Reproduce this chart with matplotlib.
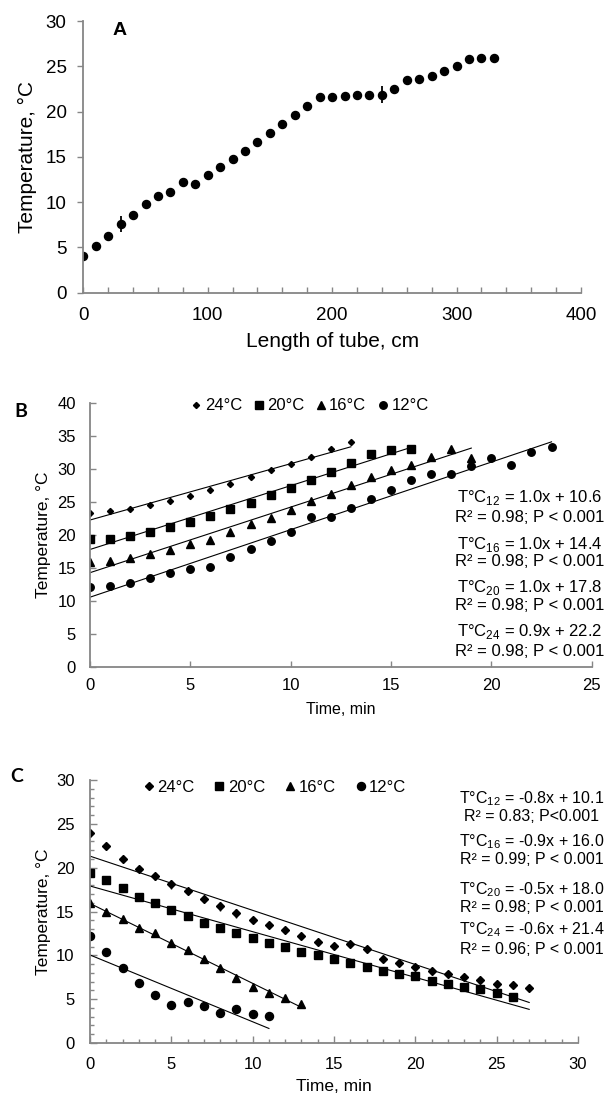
import numpy as np
import matplotlib
matplotlib.use("Agg")
import matplotlib.pyplot as plt
from matplotlib.ticker import MultipleLocator

plt.rcParams['font.family'] = ['Liberation Sans', 'DejaVu Sans']
plt.rcParams['mathtext.fontset'] = 'custom'
plt.rcParams['mathtext.rm'] = 'Liberation Sans'

# ---------------- Data ----------------
# Panel A
lengthA = [0, 10, 20, 30, 40, 50, 60, 70, 80, 90, 100, 110, 120, 130, 140, 150, 160,
           170, 180, 190, 200, 210, 220, 230, 240, 250, 260, 270, 280, 290, 300, 310, 320, 330]
tempA = [4.1, 5.15, 6.3, 7.6, 8.55, 9.8, 10.65, 11.1, 12.2, 12.0, 13.0, 13.85, 14.8, 15.6,
         16.6, 17.6, 18.6, 19.6, 20.6, 21.6, 21.6, 21.7, 21.8, 21.8, 21.85, 22.5, 23.5,
         23.65, 23.9, 24.5, 25.0, 25.8, 25.9, 25.9]
errA = [0.2, 0.1, 0.2, 0.9, 0.3, 0.2, 0.3, 0.2, 0.3, 0.2, 0.3, 0.2, 0.3, 0.2,
        0.3, 0.2, 0.3, 0.3, 0.4, 0.3, 0.3, 0.2, 0.2, 0.2, 0.95, 0.3, 0.3,
        0.3, 0.3, 0.3, 0.2, 0.3, 0.2, 0.3]

labels = ['24°C', '20°C', '16°C', '12°C']

# Panel B (heating)
tB24 = list(range(0, 14))
B24 = [23.4, 23.7, 24.0, 24.5, 25.2, 25.9, 26.8, 27.8, 28.8, 29.8, 30.8, 31.9, 33.0, 34.1]
tB20 = list(range(0, 17))
B20 = [19.4, 19.4, 19.85, 20.45, 21.2, 21.9, 22.9, 23.9, 24.9, 26.1, 27.1, 28.35, 29.6,
       31.0, 32.35, 32.9, 33.1]
tB16 = list(range(0, 20))
B16 = [15.85, 16.1, 16.45, 17.1, 17.7, 18.6, 19.3, 20.5, 21.6, 22.6, 23.8, 25.1, 26.3,
       27.6, 28.8, 29.9, 30.7, 31.9, 33.1, 31.75]
tB12 = list(range(0, 24))
B12 = [12.15, 12.25, 12.75, 13.5, 14.2, 14.8, 15.2, 16.7, 17.9, 19.1, 20.5, 22.7, 22.8,
       24.1, 25.5, 26.8, 28.3, 29.2, 29.2, 30.5, 31.75, 30.6, 32.65, 33.3]
eqB = ["T°C$_{\\mathregular{12}}$ = 1.0x + 10.6", "R² = 0.98; P < 0.001",
       "T°C$_{\\mathregular{16}}$ = 1.0x + 14.4", "R² = 0.98; P < 0.001",
       "T°C$_{\\mathregular{20}}$ = 1.0x + 17.8", "R² = 0.98; P < 0.001",
       "T°C$_{\\mathregular{24}}$ = 0.9x + 22.2", "R² = 0.98; P < 0.001"]

# Panel C (cooling)
tC24 = list(range(0, 28))
C24 = [23.9, 22.5, 21.0, 19.9, 19.0, 18.1, 17.3, 16.4, 15.6, 14.8, 14.05, 13.45, 12.85,
       12.2, 11.5, 11.05, 11.25, 10.7, 9.55, 9.1, 8.66, 8.2, 7.86, 7.5, 7.14, 6.68, 6.6, 6.3]
errC24 = [0, 0, 0, 0, 0.35, 0.5, 0.3, 0.3, 0.5, 0.5, 0, 0, 0, 0, 0, 0, 0, 0, 0, 0,
          0, 0, 0, 0, 0, 0, 0, 0]
tC20 = list(range(0, 27))
C20 = [19.4, 18.6, 17.7, 16.7, 15.95, 15.2, 14.5, 13.7, 13.15, 12.6, 12.0, 11.45, 10.9,
       10.35, 10.0, 9.6, 9.1, 8.7, 8.26, 7.9, 7.6, 7.06, 6.72, 6.38, 6.15, 5.66, 5.28]
tC16 = list(range(0, 14))
C16 = [15.95, 15.0, 14.1, 13.07, 12.5, 11.44, 10.57, 9.55, 8.52, 7.42, 6.44, 5.76, 5.15, 4.43]
tC12 = list(range(0, 12))
C12 = [12.2, 10.4, 8.5, 6.8, 5.53, 4.36, 4.66, 4.17, 3.4, 3.83, 3.33, 3.03]
trend_end_C = [27, 27, 13, 11]
eqC = ["T°C$_{\\mathregular{12}}$ = -0.8x + 10.1", "R² = 0.83; P<0.001",
       "T°C$_{\\mathregular{16}}$ = -0.9x + 16.0", "R² = 0.99; P < 0.001",
       "T°C$_{\\mathregular{20}}$ = -0.5x + 18.0", "R² = 0.98; P < 0.001",
       "T°C$_{\\mathregular{24}}$ = -0.6x + 21.4", "R² = 0.96; P < 0.001"]

# ---------------- Figure ----------------
W, H = 608, 1095
fig = plt.figure(figsize=(W / 100, H / 100), dpi=100)
GRAY = '#868686'


def px_axes(l, r, t, b):
    return fig.add_axes([l / W, 1 - b / H, (r - l) / W, (b - t) / H])


def style(ax, fs):
    for s in ['top', 'right']:
        ax.spines[s].set_visible(False)
    for s in ['left', 'bottom']:
        ax.spines[s].set_color(GRAY)
        ax.spines[s].set_linewidth(1.3)
    ax.tick_params(colors=GRAY, labelcolor='black', labelsize=fs, width=1.0)


# ---- Panel A ----
axA = px_axes(83.3, 581, 21, 292.7)
style(axA, 13.5)
axA.errorbar(lengthA, tempA, yerr=errA, fmt='o', color='black', ms=5.8,
             elinewidth=1.3, capsize=0)
axA.set_xlim(0, 400)
axA.set_ylim(0, 30)
axA.xaxis.set_major_locator(MultipleLocator(100))
axA.xaxis.set_minor_locator(MultipleLocator(20))
axA.yaxis.set_major_locator(MultipleLocator(5))
axA.tick_params(axis='x', which='both', direction='in', length=4, pad=10)
axA.tick_params(axis='x', which='minor', colors=GRAY, width=1.0)
axA.tick_params(axis='y', direction='out', length=4, pad=8)
axA.set_xlabel('Length of tube, cm', fontsize=15, va='top')
axA.set_ylabel('Temperature, °C', fontsize=15, va='bottom')
axA.xaxis.set_label_coords(0.5, (292.7 - 332) / 271.7)
axA.yaxis.set_label_coords((37 - 83.3) / 497.7, 0.5)
axA.text(29, 29, 'A', fontsize=14, fontweight='bold', ha='center', va='center')

# ---- Panel B ----
axB = px_axes(90, 591.7, 403.3, 666.7)
style(axB, 12)
mk = [('D', 3.1), ('s', 5.8), ('^', 5.6), ('o', 5.4)]
seriesB = [(tB24, B24), (tB20, B20), (tB16, B16), (tB12, B12)]
for (t, y), (m, s), lab in zip(seriesB, mk, labels):
    axB.plot(t, y, ls='none', marker=m, ms=s, color='black', label=lab)
    c = np.polyfit(t, y, 1)
    xx = np.array([min(t), max(t)])
    axB.plot(xx, np.polyval(c, xx), color='black', lw=0.8)
axB.set_xlim(0, 25)
axB.set_ylim(0, 40)
axB.xaxis.set_major_locator(MultipleLocator(5))
axB.yaxis.set_major_locator(MultipleLocator(5))
axB.tick_params(direction='in', length=4)
axB.tick_params(axis='x', pad=8)
axB.tick_params(axis='y', pad=10)
axB.set_xlabel('Time, min', fontsize=11.5, va='top')
axB.set_ylabel('Temperature, °C', fontsize=12.5, va='bottom')
axB.xaxis.set_label_coords(0.5, (666.7 - 702) / 263.3)
axB.yaxis.set_label_coords((51 - 90) / 501.7, 0.5)
axB.legend(loc='center', bbox_to_anchor=((310 - 90) / (591.7 - 90), (666.7 - 406) / (666.7 - 403.3)),
           ncol=4, frameon=False, fontsize=12, handlelength=0.6, handletextpad=0.2,
           columnspacing=0.7, borderaxespad=0)
fig.text(21 / W, 1 - 412 / H, 'B', fontsize=14, fontweight='bold', family='Lato',
         ha='center', va='center')
ypB = [497.7, 517.3, 544, 562, 587.7, 606, 631.7, 651]
for s, yp in zip(eqB, ypB):
    fig.text(530 / W, 1 - yp / H, s, fontsize=12, ha='center', va='center')

# ---- Panel C ----
axC = px_axes(90, 578, 780, 1043)
style(axC, 12)
mkC = [('D', 4.1), ('s', 5.8), ('^', 5.6), ('o', 5.8)]
seriesC = [(tC24, C24), (tC20, C20), (tC16, C16), (tC12, C12)]
handles = []
for i, ((t, y), (m, s), lab, te) in enumerate(zip(seriesC, mkC, labels, trend_end_C)):
    if i == 0:
        axC.errorbar(t, y, yerr=errC24, fmt='none', ecolor='black', elinewidth=1.0, capsize=0)
    hnd, = axC.plot(t, y, ls='none', marker=m, ms=s, color='black', label=lab)
    handles.append(hnd)
    c = np.polyfit(t, y, 1)
    xx = np.array([0, te])
    axC.plot(xx, np.polyval(c, xx), color='black', lw=0.8)
axC.set_xlim(0, 30)
axC.set_ylim(0, 30)
axC.xaxis.set_major_locator(MultipleLocator(5))
axC.yaxis.set_major_locator(MultipleLocator(5))
axC.xaxis.set_minor_locator(MultipleLocator(1))
axC.yaxis.set_minor_locator(MultipleLocator(1))
axC.tick_params(which='major', direction='in', length=5)
axC.tick_params(which='minor', direction='in', length=3, colors=GRAY, width=1.0)
axC.tick_params(axis='x', which='major', pad=10)
axC.tick_params(axis='y', which='major', pad=11)
axC.set_xlabel('Time, min', fontsize=12.5, va='top')
axC.set_ylabel('Temperature, °C', fontsize=12.5, va='bottom')
axC.xaxis.set_label_coords(0.5, (1043 - 1079) / 263)
axC.yaxis.set_label_coords((51 - 90) / 488, 0.5)
axC.legend(handles, labels, loc='center',
           bbox_to_anchor=((275 - 90) / (578 - 90), (1043 - 787) / (1043 - 780)),
           ncol=4, frameon=False, fontsize=12, handlelength=0.6, handletextpad=0.2,
           columnspacing=1.2, borderaxespad=0)
fig.text(17 / W, 1 - 776 / H, 'C', fontsize=14, fontweight='bold', family='Lato',
         ha='center', va='center')
ypC = [798.3, 816.7, 841.7, 860, 889.3, 907.3, 930, 949.3]
for s, yp in zip(eqC, ypC):
    fig.text(532 / W, 1 - yp / H, s, fontsize=11.5, ha='center', va='center')

fig.savefig('out.png', dpi=100)
